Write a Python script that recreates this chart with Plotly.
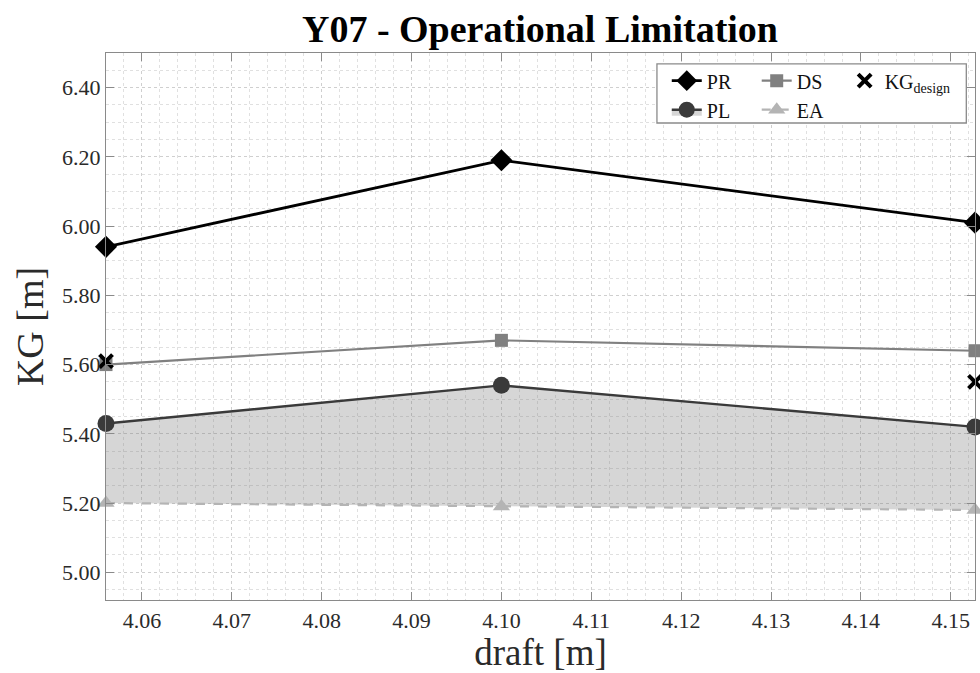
import plotly.graph_objects as go

# Draft values [m] and KG limits [m] per criterion
draft = [4.056, 4.100, 4.1527]
kg_pr = [5.94, 6.19, 6.01]
kg_ds = [5.60, 5.67, 5.64]
kg_pl = [5.43, 5.54, 5.42]
kg_ea = [5.20, 5.19, 5.18]
kg_design_x = [4.056, 4.1527]
kg_design = [5.61, 5.55]

x_ticks = [4.06, 4.07, 4.08, 4.09, 4.10, 4.11, 4.12, 4.13, 4.14, 4.15]
y_ticks = [5.00, 5.20, 5.40, 5.60, 5.80, 6.00, 6.20, 6.40]

SERIF = "Liberation Serif, Times New Roman, serif"

fig = go.Figure()

# EA lower bound (dashed) – first so the PL fill closes onto it
fig.add_trace(go.Scatter(
    x=draft, y=kg_ea, name="EA", mode="lines+markers",
    line=dict(color="#b4b4b4", width=2.2, dash="dash"),
    marker=dict(symbol="triangle-up", size=15, color="#b4b4b4"),
    legend="legend2", legendrank=2, cliponaxis=False,
))
# PL with shaded operating band down to EA
fig.add_trace(go.Scatter(
    x=draft, y=kg_pl, name="PL", mode="lines+markers",
    line=dict(color="#3a3a3a", width=2.4),
    marker=dict(symbol="circle", size=17, color="#3a3a3a"),
    fill="tonexty", fillcolor="rgba(120,120,120,0.30)",
    legend="legend", legendrank=2, cliponaxis=False,
))
fig.add_trace(go.Scatter(
    x=draft, y=kg_ds, name="DS", mode="lines+markers",
    line=dict(color="#808080", width=2.2),
    marker=dict(symbol="square", size=13, color="#808080"),
    legend="legend2", legendrank=1, cliponaxis=False,
))
fig.add_trace(go.Scatter(
    x=draft, y=kg_pr, name="PR", mode="lines+markers",
    line=dict(color="#000000", width=2.8),
    marker=dict(symbol="diamond", size=17, color="#000000"),
    legend="legend", legendrank=1, cliponaxis=False,
))
fig.add_trace(go.Scatter(
    x=kg_design_x, y=kg_design, name="KG<sub>design</sub>", mode="markers",
    marker=dict(symbol="x-thin", size=13, color="#000000",
                line=dict(color="#000000", width=4)),
    legend="legend3", cliponaxis=False,
))

axis_common = dict(
    showline=True, linecolor="#8a8a8a", linewidth=1.3, mirror="ticks",
    ticks="inside", ticklen=8, tickcolor="#8a8a8a", tickwidth=1.2,
    showgrid=True, gridcolor="#cfcfcf", griddash="dot", gridwidth=1,
    zeroline=False,
    tickfont=dict(family=SERIF, size=22, color="#2a2a2a"),
)

fig.update_xaxes(
    **axis_common,
    range=[draft[0], draft[-1]],
    tickvals=x_ticks, ticktext=[f"{v:.2f}" for v in x_ticks],
    minor=dict(dtick=0.002, tick0=4.06, showgrid=True, gridcolor="#e0e0e0",
               griddash="dot", ticks=""),
    title=dict(text="draft [m]", font=dict(family=SERIF, size=37, color="#2a2a2a"),
               standoff=4),
)
fig.update_yaxes(
    **axis_common,
    range=[4.92, 6.50],
    tickvals=y_ticks, ticktext=[f"{v:.2f}" for v in y_ticks],
    minor=dict(dtick=0.05, tick0=5.0, showgrid=True, gridcolor="#e0e0e0",
               griddash="dot", ticks=""),
    title=dict(text="KG [m]", font=dict(family=SERIF, size=38, color="#2a2a2a"),
               standoff=6),
)

# Three legend columns: (PR, PL), (DS, EA), (KG_design)
legend_common = dict(
    orientation="v", xanchor="left", yanchor="top", traceorder="normal",
    bgcolor="rgba(0,0,0,0)", borderwidth=0, tracegroupgap=0,
    font=dict(family=SERIF, size=20, color="#111111"),
    itemwidth=30, y=0.985,
)

fig.update_layout(
    width=980, height=673,
    margin=dict(l=106, r=5, t=53, b=73, autoexpand=False),
    paper_bgcolor="white", plot_bgcolor="white",
    title=dict(text="<b>Y07 - Operational Limitation</b>", x=0.551, xanchor="center",
               y=0.957, yanchor="middle",
               font=dict(family=SERIF, size=38, color="#000000")),
    legend=dict(**legend_common, x=0.6453),
    legend2=dict(**legend_common, x=0.7488),
    legend3=dict(**legend_common, x=0.850),
    shapes=[dict(type="rect", xref="paper", yref="paper",
                 x0=0.634, x1=0.990, y0=0.872, y1=0.980,
                 line=dict(color="#8a8a8a", width=1.3),
                 fillcolor="white", layer="above")],
    showlegend=True,
)

fig.write_html("out.html")
